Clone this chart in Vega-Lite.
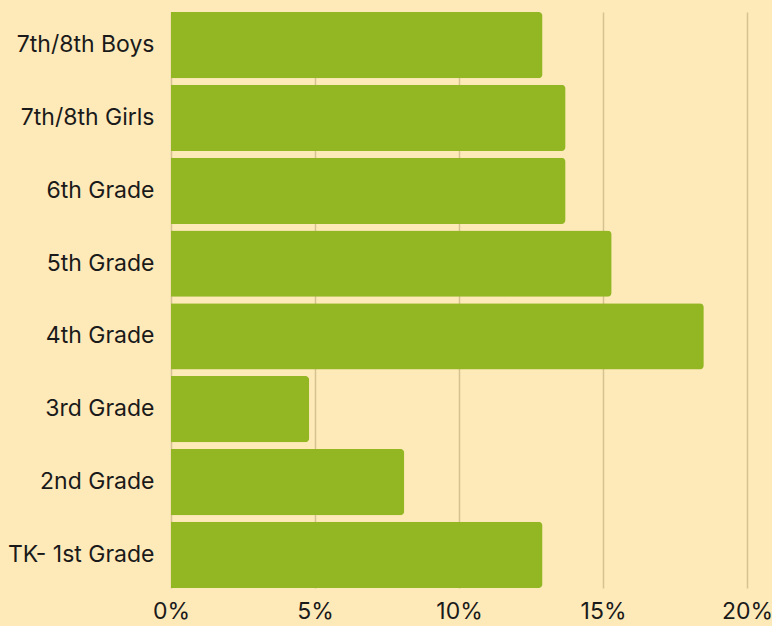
{
  "$schema": "https://vega.github.io/schema/vega-lite/v6.json",
  "width": 576,
  "height": 576,
  "autosize": {"type": "none"},
  "padding": {"left": 171, "top": 12, "right": 25, "bottom": 38},
  "background": "#fee9b9",
  "config": {
    "view": {"stroke": null},
    "font": "Inter"
  },
  "data": {
    "values": [
      {"group": "7th/8th Boys\u00a0", "pct": 0.129},
      {"group": "7th/8th Girls", "pct": 0.137},
      {"group": "6th Grade", "pct": 0.137},
      {"group": "5th Grade", "pct": 0.153},
      {"group": "4th Grade", "pct": 0.185},
      {"group": "3rd Grade", "pct": 0.048},
      {"group": "2nd Grade", "pct": 0.081},
      {"group": "TK- 1st Grade", "pct": 0.129}
    ]
  },
  "mark": {"type": "bar", "color": "#93b723", "cornerRadiusEnd": 4},
  "encoding": {
    "y": {
      "field": "group",
      "type": "nominal",
      "sort": null,
      "scale": {"paddingInner": 0.09, "paddingOuter": 0},
      "axis": {
        "title": null,
        "ticks": false,
        "domain": false,
        "labelFontSize": 23,
        "labelColor": "#1a1a1a",
        "labelPadding": 17,
        "labelFont": "Inter"
      }
    },
    "x": {
      "field": "pct",
      "type": "quantitative",
      "scale": {"domain": [0, 0.2], "nice": false},
      "axis": {
        "title": null,
        "format": ".0%",
        "values": [0, 0.05, 0.1, 0.15, 0.2],
        "ticks": false,
        "domain": false,
        "grid": true,
        "gridColor": "#d6c192",
        "gridWidth": 1.5,
        "labelFontSize": 23,
        "labelColor": "#1a1a1a",
        "labelPadding": 12,
        "labelFont": "Inter",
        "labelOverlap": false,
        "labelFlush": false
      }
    }
  }
}
